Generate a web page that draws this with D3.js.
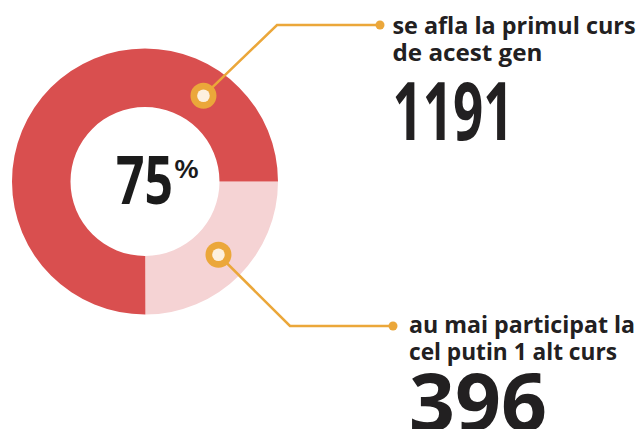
<!DOCTYPE html>
<html><head><meta charset="utf-8">
<script src="https://cdn.jsdelivr.net/npm/d3@7"></script>
<style>html,body{margin:0;padding:0;background:#fff;}svg{display:block;}</style>
</head><body><svg id="c" width="641" height="429"></svg>
<script>
// data
const categories = ["au mai participat la cel putin 1 alt curs", "se afla la primul curs de acest gen"];
const values = [396, 1191];
const labelLines = [["au mai participat la", "cel putin 1 alt curs"], ["se afla la primul curs", "de acest gen"]];
const colors = ["#f5d3d4", "#d94f4f"];

const svg = d3.select("#c");
const cx = 145, cy = 181.5, rOut = 133, rIn = 74.5, rMid = (rOut + rIn) / 2;
const orange = "#eba73a", ink = "#222021";

const pie = d3.pie().sort(null).value(d => d).startAngle(Math.PI / 2).endAngle(Math.PI * 2.5);
const arcs = pie(values);
const arc = d3.arc().innerRadius(rIn).outerRadius(rOut);
const g = svg.append("g").attr("transform", `translate(${cx},${cy})`);
g.selectAll("path").data(arcs).join("path").attr("d", arc).attr("fill", (d, i) => colors[i]);

// center percentage
const total = d3.sum(values);
const pct = Math.round(values[1] / total * 100);
g.append("text").attr("x", -29).attr("y", 22).attr("fill", "#1b1b1b")
  .style("font-family", "'Open Sans'").style("font-weight", 700).style("font-size", "66px")
  .attr("textLength", 57).attr("lengthAdjust", "spacingAndGlyphs").text(pct);
g.append("text").attr("x", 29).attr("y", -4).attr("fill", "#1b1b1b")
  .style("font-family", "'Open Sans'").style("font-weight", 600).style("font-size", "26px")
  .attr("textLength", 25).attr("lengthAdjust", "spacingAndGlyphs").text("%");

// markers
const markerArc = d3.arc().innerRadius(rMid).outerRadius(rMid);
const topAngle = 34.3 * Math.PI / 180;
const mTop = [cx + rMid * Math.sin(topAngle), cy - rMid * Math.cos(topAngle)];
const cb = markerArc.centroid(arcs[0]);
const mBot = [cx + cb[0], cy + cb[1]];

const callouts = [
  {m: mBot, elbow: [290, 326], end: [393, 326], tx: 409, lines: labelLines[0], lineW: [226, 208], base: 333, num: values[0], numW: 138, numBase: 431},
  {m: mTop, elbow: [277, 25], end: [380, 25], tx: 392.5, lines: labelLines[1], lineW: [243, 150], base: 34, num: values[1], numW: 121, numBase: 140}
];
callouts.forEach(c => {
  svg.append("path").attr("d", d3.line()([c.m, c.elbow, c.end])).attr("fill", "none")
    .attr("stroke", orange).attr("stroke-width", 2.5);
  svg.append("circle").attr("cx", c.end[0]).attr("cy", c.end[1]).attr("r", 4.5).attr("fill", orange);
  svg.append("circle").attr("cx", c.m[0]).attr("cy", c.m[1]).attr("r", 13).attr("fill", orange);
  svg.append("circle").attr("cx", c.m[0]).attr("cy", c.m[1]).attr("r", 6.3).attr("fill", "#fdf0de");
  c.lines.forEach((t, i) => {
    svg.append("text").attr("x", c.tx).attr("y", c.base + i * 27).text(t)
      .attr("fill", ink).style("font-family", "'Open Sans'").style("font-weight", 700).style("font-size", "24px")
      .attr("textLength", c.lineW[i]).attr("lengthAdjust", "spacingAndGlyphs");
  });
  svg.append("text").attr("x", c.tx).attr("y", c.numBase).text(c.num)
    .attr("fill", ink).style("font-family", "'Open Sans'").style("font-weight", 700).style("font-size", "81px")
    .attr("textLength", c.numW).attr("lengthAdjust", "spacingAndGlyphs");
});
</script></body></html>
